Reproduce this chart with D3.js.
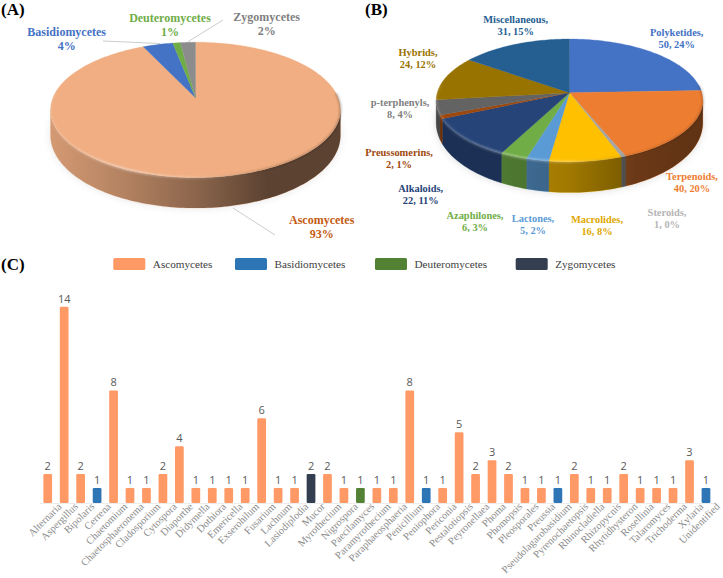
<!DOCTYPE html>
<html>
<head>
<meta charset="utf-8">
<style>
  body { margin: 0; background: #fff; }
  svg { display: block; }
  text { font-family: "Liberation Serif", serif; }
  .panel { font-size: 17px; font-weight: bold; fill: #000; }
  .pie-label { font-size: 12px; font-weight: bold; text-anchor: middle; }
  .pie-label.small { font-size: 10.4px; }
  .legend-text { font-size: 11.2px; fill: #404040; }
  .value { font-family: "Open Sans", sans-serif; font-size: 11px; fill: #595959; text-anchor: middle; }
  .axis text { font-size: 10.4px; fill: #8c8c8c; }
</style>
<script src="https://cdnjs.cloudflare.com/ajax/libs/d3/7.8.5/d3.min.js"></script>
</head>
<body>
<svg id="chart" width="723" height="578"></svg>
<script>
// panel A
var phylumNames = ["Ascomycetes", "Basidiomycetes", "Deuteromycetes", "Zygomycetes"];
var phylumPercent = [93, 4, 1, 2];
var phylumColors = ["#F0AE82", "#4472C4", "#70AD47", "#8C8C8C"];
var phylumTextColors = ["#C55A11", "#4472C4", "#70AD47", "#7F7F7F"];

// panel B
var classNames = ["Polyketides", "Terpenoids", "Steroids", "Macrolides", "Lactones", "Azaphilones",
                  "Alkaloids", "Preussomerins", "p-terphenyls", "Hybrids", "Miscellaneous"];
var classCounts = [50, 40, 1, 16, 5, 6, 22, 2, 8, 24, 31];
var classPercent = [24, 20, 0, 8, 2, 3, 11, 1, 4, 12, 15];
var classColors = ["#4472C4", "#ED7D31", "#A5A5A5", "#FFC000", "#5B9BD5", "#70AD47",
                   "#264478", "#9E480E", "#636363", "#997300", "#255E91"];
var classTextColors = ["#4472C4", "#ED7D31", "#B5B5B5", "#E0A800", "#5B9BD5", "#70AD47",
                       "#264478", "#9E480E", "#7F7F7F", "#997300", "#255E91"];

// panel C
var genera = ["Alternaria", "Aspergillus", "Bipolaris", "Cerrena", "Chaetomium", "Chaetosphaeronema",
              "Cladosporium", "Cytospora", "Diaporthe", "Didymella", "Dothiora", "Emericella",
              "Exserohilum", "Fusarium", "Lachnum", "Lasiodiplodia", "Mucor", "Myrothecium",
              "Nigrospora", "Paecilamyces", "Paramyrothecium", "Paraphaeosphaeria", "Penicillium",
              "Peniophora", "Periconia", "Pestalotiopsis", "Peyronellaea", "Phoma", "Phomopsis",
              "Pleosporales", "Preussia", "Pseudolagarobasidium", "Pyrenochaetopsis", "Rhinocladiella",
              "Rhizopycnis", "Rhytidhysteron", "Rosellinia", "Talaromyces", "Trichoderma", "Xylaria",
              "Unidentified"];
var genusCounts = [2, 14, 2, 1, 8, 1, 1, 2, 4, 1, 1, 1, 1, 6, 1, 1, 2, 2, 1, 1, 1, 1, 8, 1, 1, 5, 2, 3, 2,
                   1, 1, 1, 2, 1, 1, 2, 1, 1, 1, 3, 1];
var genusPhylum = ["A", "A", "A", "B", "A", "A", "A", "A", "A", "A", "A", "A", "A", "A", "A", "A", "Z", "A",
                   "A", "D", "A", "A", "A", "B", "A", "A", "A", "A", "A", "A", "A", "B", "A", "A", "A", "A",
                   "A", "A", "A", "A", "B"];
var legendKeys = ["A", "B", "D", "Z"];
var legendColors = ["#FF9966", "#2E75B6", "#548235", "#333F50"];

var svg = d3.select("#chart");
var defs = svg.append("defs");
defs.append("filter").attr("id", "soft").append("feGaussianBlur").attr("stdDeviation", 4);
defs.append("filter").attr("id", "rim")
    .attr("x", "-5%").attr("y", "-20%").attr("width", "110%").attr("height", "140%")
    .append("feGaussianBlur").attr("stdDeviation", 0.8);

// tilted disc: circle seen in perspective, so the hub sits above the middle of the ellipse
function project(p, theta, lower) {
    var u = Math.sin(theta), v = -Math.cos(theta), w = 1 - p.k * v;
    var drop = lower ? p.depth * (1 + p.swell * v) : 0;
    return [p.cx + p.b * u / w, p.cy + p.a * v / w + drop];
}

function arcPoints(p, a0, a1, lower) {
    var n = Math.max(2, Math.ceil((a1 - a0) / 0.02));
    return d3.range(n + 1).map(function(i) {
        return project(p, a0 + (a1 - a0) * i / n, lower);
    });
}

var line = d3.line();

function gradient(id, stops) {
    var grad = defs.append("linearGradient").attr("id", id);
    stops.forEach(function(d, i) {
        grad.append("stop").attr("offset", i / (stops.length - 1))
            .attr("stop-color", d[0]).attr("stop-opacity", d[1]);
    });
}

function drawPie(p, values, colors, id, shade, shine) {
    var g = svg.append("g");
    var slices = d3.pie().sort(null)(values);
    var visible0 = Math.PI - Math.acos(p.k), visible1 = Math.PI + Math.acos(p.k);

    // shadow under the disc
    g.append("path")
        .attr("d", line(arcPoints(p, 0, 2 * Math.PI, true)) + "Z")
        .attr("fill", "#000").attr("opacity", p.shadow).attr("filter", "url(#soft)");

    // side wall
    slices.forEach(function(s, i) {
        var a0 = Math.max(s.startAngle, visible0), a1 = Math.min(s.endAngle, visible1);
        if (a1 <= a0) return;
        var pts = arcPoints(p, a0, a1, false).concat(arcPoints(p, a0, a1, true).reverse());
        g.append("path").attr("d", line(pts) + "Z").attr("fill", colors[i])
            .attr("stroke", colors[i]).attr("stroke-width", 0.3);
    });

    gradient(id, shade.map(function(d) { return ["#000", d]; }));
    g.append("path")
        .attr("d", line(arcPoints(p, visible0, visible1, false).concat(arcPoints(p, visible0, visible1, true).reverse())) + "Z")
        .attr("fill", "url(#" + id + ")");

    // top face
    slices.forEach(function(s, i) {
        var pts = [[p.cx, p.cy]].concat(arcPoints(p, s.startAngle, s.endAngle, false));
        g.append("path").attr("d", line(pts) + "Z").attr("fill", colors[i])
            .attr("stroke", colors[i]).attr("stroke-width", 0.3);
    });

    // bevel along the front edge, bright on the left and dark on the right
    gradient(id + "Shine", shine);
    g.append("path").attr("d", line(arcPoints(p, visible0 - 0.25, visible1 + 0.25, false)))
        .attr("fill", "none").attr("stroke", "url(#" + id + "Shine)").attr("stroke-width", 1.8)
        .attr("filter", "url(#rim)");
}

drawPie({cx: 195.5, cy: 97.7, a: 65.5, b: 142.6, k: 0.18, depth: 24, swell: 0.27, shadow: 0.1},
        phylumPercent, phylumColors, "shadeA", [0.12, 0.25, 0.42, 0.62, 0.62],
        [["#fff", 0.15], ["#fff", 0.55], ["#fff", 0.25], ["#000", 0.2], ["#000", 0.3]]);
drawPie({cx: 569.5, cy: 92.7, a: 60.4, b: 132.3, k: 0.125, depth: 21, swell: 0.47, shadow: 0.14},
        classCounts, classColors, "shadeB", [0.3, 0.3, 0.37, 0.55, 0.6],
        [["#fff", 0.2], ["#fff", 0.4], ["#fff", 0.35], ["#000", 0.1], ["#000", 0.25]]);

// leader lines of panel A
var leaders = [[[103, 41], [160, 43.5]], [[223, 20], [188, 41.7]], [[233, 208], [275, 235]]];
svg.selectAll(".leader").data(leaders).enter().append("path")
    .attr("class", "leader").attr("d", line)
    .attr("fill", "none").attr("stroke", "#BFBFBF").attr("stroke-width", 0.8);

// pie labels
var phylumLabelPos = [[321.7, 224], [66.7, 36], [170, 22], [266.7, 21]];
phylumNames.forEach(function(name, i) {
    var t = svg.append("text").attr("class", "pie-label").attr("fill", phylumTextColors[i]);
    t.append("tspan").attr("x", phylumLabelPos[i][0]).attr("y", phylumLabelPos[i][1]).text(name);
    t.append("tspan").attr("x", phylumLabelPos[i][0]).attr("y", phylumLabelPos[i][1] + 13.5).text(phylumPercent[i] + "%");
});

var classLabelPos = [[676.7, 36], [692, 180], [667, 216], [597, 223], [533, 222], [475, 219],
                     [420.7, 192], [399, 156], [400, 106], [418, 56], [515.7, 23]];
classNames.forEach(function(name, i) {
    var t = svg.append("text").attr("class", "pie-label small").attr("fill", classTextColors[i]);
    t.append("tspan").attr("x", classLabelPos[i][0]).attr("y", classLabelPos[i][1]).text(name + ",");
    t.append("tspan").attr("x", classLabelPos[i][0]).attr("y", classLabelPos[i][1] + 11.5)
        .text(classCounts[i] + ", " + classPercent[i] + "%");
});

svg.append("text").attr("class", "panel").attr("x", 1).attr("y", 15).text("(A)");
svg.append("text").attr("class", "panel").attr("x", 365).attr("y", 15).text("(B)");
svg.append("text").attr("class", "panel").attr("x", 1).attr("y", 270).text("(C)");

// legend of panel C
var legendX = d3.scaleOrdinal().domain(legendKeys).range([113.3, 235, 375, 515.7]);
var color = d3.scaleOrdinal().domain(legendKeys).range(legendColors);
legendKeys.forEach(function(k, i) {
    svg.append("rect").attr("x", legendX(k)).attr("y", 258).attr("width", 32).attr("height", 12)
        .attr("rx", 1.5).attr("fill", color(k));
    svg.append("text").attr("class", "legend-text").attr("x", legendX(k) + 39.5).attr("y", 268)
        .text(phylumNames[i]);
});

// bars of panel C
var x = d3.scaleBand().domain(genera).range([39.5, 714.2]).paddingInner(0.47).paddingOuter(0.235);
var y = d3.scaleLinear().domain([0, 14]).range([503, 307.7]);

var axis = svg.append("g").attr("class", "axis").attr("transform", "translate(0,503)")
    .call(d3.axisBottom(x).tickSize(0).tickPadding(8));
axis.select(".domain").attr("stroke", "#EDEDED").attr("stroke-width", 1.2);
axis.selectAll("text")
    .attr("text-anchor", "end")
    .attr("dx", "0.7em").attr("dy", "0.5em")
    .attr("transform", "rotate(-45)");

svg.selectAll(".bar").data(genera).enter().append("rect")
    .attr("class", "bar")
    .attr("x", function(d) { return x(d); })
    .attr("width", x.bandwidth())
    .attr("y", function(d, i) { return y(genusCounts[i]) - 1; })
    .attr("height", function(d, i) { return 503 - y(genusCounts[i]) + 1; })
    .attr("rx", 1.2)
    .attr("fill", function(d, i) { return color(genusPhylum[i]); });

svg.selectAll(".value").data(genera).enter().append("text")
    .attr("class", "value")
    .attr("x", function(d) { return x(d) + x.bandwidth() / 2; })
    .attr("y", function(d, i) { return y(genusCounts[i]) - 5; })
    .text(function(d, i) { return genusCounts[i]; });
</script>
</body>
</html>
